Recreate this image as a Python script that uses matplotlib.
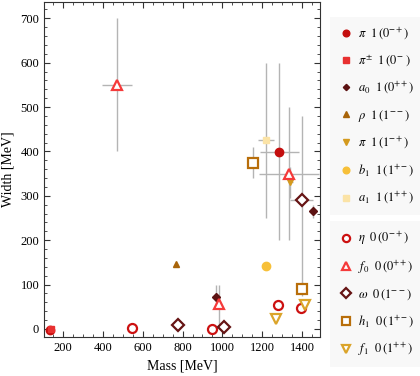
import matplotlib
matplotlib.use("Agg")
import matplotlib.pyplot as plt
from matplotlib.lines import Line2D
from matplotlib.ticker import MultipleLocator

plt.rcParams["font.family"] = "serif"
plt.rcParams["font.serif"] = ["Liberation Serif", "DejaVu Serif"]
plt.rcParams["mathtext.fontset"] = "stix"

# isovector states (filled markers)
pi_mass = [134, 1285]
pi_width = [-3, 398]
pi_xerr = [0, 98]
pi_ylo = [0, 198]
pi_yhi = [0, 202]

pipm_mass = [139]
pipm_width = [0]

a0_mass = [970, 1457]
a0_width = [73, 265]
a0_xerr = [0, 0]
a0_ylo = [23, 15]
a0_yhi = [27, 15]

rho_mass = [768]
rho_width = [147]

pi1_mass = [1340]
pi1_width = [330]
pi1_xerr = [12]
pi1_ylo = [35]
pi1_yhi = [35]

b1_mass = [1218]
b1_width = [142]
b1_ylo = [7]
b1_yhi = [8]

a1_mass = [1217]
a1_width = [425]
a1_xerr = [40]
a1_ylo = [175]
a1_yhi = [175]

# isoscalar states (open markers)
eta_mass = [546, 948, 1278, 1392]
eta_width = [1, 0, 55, 47]

f0_mass = [470, 982, 1335]
f0_width = [550, 57, 350]
f0_xerr = [75, 0, 150]
f0_ylo = [150, 47, 150]
f0_yhi = [150, 43, 150]

omega_mass = [778, 1008, 1397]
omega_width = [8, 4, 290]
omega_xerr = [0, 0, 56]
omega_ylo = [0, 0, 190]
omega_yhi = [0, 0, 190]

h1_mass = [1155, 1401]
h1_width = [375, 90]
h1_ylo = [35, 15]
h1_yhi = [35, 15]

f1_mass = [1268, 1413]
f1_width = [23, 55]

labels_iv = [r"$\pi\ \ 1\,(0^{-+})$", r"$\pi^{\pm}\ \ 1\,(0^{-}\ )$", r"$a_0\ \ 1\,(0^{++})$",
             r"$\rho\ \ 1\,(1^{--})$", r"$\pi\ \ 1\,(1^{-+})$", r"$b_1\ \ 1\,(1^{+-})$",
             r"$a_1\ \ 1\,(1^{++})$"]
labels_is = [r"$\eta\ \ 0\,(0^{-+})$", r"$f_0\ \ 0\,(0^{++})$", r"$\omega\ \ 0\,(1^{--})$",
             r"$h_1\ \ 0\,(1^{+-})$", r"$f_1\ \ 0\,(1^{++})$"]

ecol = "#b4b4b4"

fig = plt.figure(figsize=(4.2, 3.76), dpi=100)
ax = fig.add_axes([0.105, 0.104, 0.657, 0.891])


def errs(m, w, xe, ylo, yhi):
    ax.errorbar(m, w, xerr=xe, yerr=[ylo, yhi], fmt="none", ecolor=ecol,
                elinewidth=1.0, capsize=0, zorder=1)


errs(pi_mass, pi_width, pi_xerr, pi_ylo, pi_yhi)
errs(a0_mass, a0_width, a0_xerr, a0_ylo, a0_yhi)
errs(pi1_mass, pi1_width, pi1_xerr, pi1_ylo, pi1_yhi)
errs(b1_mass, b1_width, [0], b1_ylo, b1_yhi)
errs(a1_mass, a1_width, a1_xerr, a1_ylo, a1_yhi)
errs(f0_mass, f0_width, f0_xerr, f0_ylo, f0_yhi)
errs(omega_mass, omega_width, omega_xerr, omega_ylo, omega_yhi)
errs(h1_mass, h1_width, [0, 0], h1_ylo, h1_yhi)

styles_iv = [
    (pi_mass, pi_width, "o", "#c40e0e", 6.0),
    (pipm_mass, pipm_width, "s", "#e83030", 5.0),
    (a0_mass, a0_width, "D", "#5c1212", 4.0),
    (rho_mass, rho_width, "^", "#a8640a", 5.0),
    (pi1_mass, pi1_width, "v", "#d49a1e", 5.0),
    (b1_mass, b1_width, "o", "#f7c039", 6.0),
    (a1_mass, a1_width, "s", "#fbe3a6", 5.0),
]
styles_is = [
    (eta_mass, eta_width, "o", "#cc1111", 6.5),
    (f0_mass, f0_width, "^", "#f53a3a", 7.5),
    (omega_mass, omega_width, "D", "#661414", 6.0),
    (h1_mass, h1_width, "s", "#b86e0a", 6.5),
    (f1_mass, f1_width, "v", "#dba42a", 7.5),
]

handles_iv = []
for m, w, mk, c, ms in styles_iv:
    ax.plot(m, w, linestyle="none", marker=mk, color=c, markersize=ms, zorder=3)
    handles_iv.append(Line2D([], [], linestyle="none", marker=mk, color=c, markersize=ms * 0.8))

handles_is = []
for m, w, mk, c, ms in styles_is:
    ax.plot(m, w, linestyle="none", marker=mk, markerfacecolor="white", markeredgecolor=c,
            markeredgewidth=1.6, markersize=ms, zorder=3)
    handles_is.append(Line2D([], [], linestyle="none", marker=mk, markerfacecolor="white",
                             markeredgecolor=c, markeredgewidth=1.6, markersize=ms * 0.8))

ax.set_xlim(105, 1490)
ax.set_ylim(-18, 737)
ax.xaxis.set_major_locator(MultipleLocator(200))
ax.xaxis.set_minor_locator(MultipleLocator(50))
ax.yaxis.set_major_locator(MultipleLocator(100))
ax.yaxis.set_minor_locator(MultipleLocator(20))
ax.tick_params(which="both", direction="in", top=True, right=True, labelsize=9, color="#333333")
ax.tick_params(which="major", length=4)
ax.tick_params(which="minor", length=2.2)
for s in ax.spines.values():
    s.set_color("#333333")
ax.set_xlabel("Mass [MeV]", fontsize=10)
ax.set_ylabel("Width [MeV]", fontsize=10)

leg_kw = dict(loc="upper left", frameon=True, facecolor="#f8f8f8", edgecolor="none",
              fontsize=9, labelspacing=0.92, handlelength=1.0, handletextpad=0.5,
              borderpad=0.72, fancybox=False, framealpha=1)
leg1 = fig.legend(handles_iv, labels_iv, bbox_to_anchor=(0.772, 0.972), **leg_kw)
fig.legend(handles_is, labels_is, bbox_to_anchor=(0.772, 0.43), **leg_kw)
fig.add_artist(leg1)

fig.savefig("out.png", dpi=100)
